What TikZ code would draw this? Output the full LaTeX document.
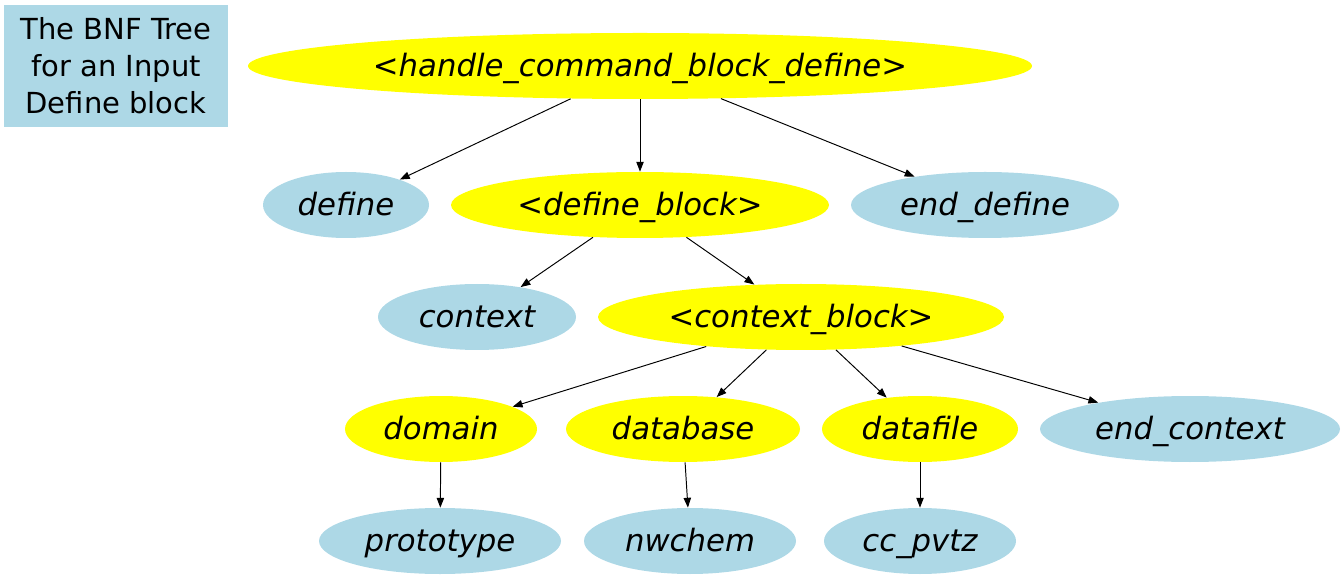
\documentclass[tikz,border=0pt]{standalone}
\usepackage{fontspec}
\setmainfont{DejaVu Sans}
\usetikzlibrary{arrows.meta,shapes.geometric}
\definecolor{lb}{RGB}{173,216,230}
\definecolor{yl}{RGB}{255,255,0}
\def\u{0.02cm}
\tikzset{
  ell/.style={ellipse, draw=none, inner sep=0pt, text height=14pt, text depth=2.6pt,
    font=\fontsize{17.5}{20}\selectfont\itshape},
  yel/.style={ell, fill=yl},
  blu/.style={ell, fill=lb},
  edge/.style={line width=0.55pt, -{Triangle[length=5.6pt,width=4.2pt]}},
}
\begin{document}
\begin{tikzpicture}[x=0.02cm,y=-0.02cm]
\useasboundingbox (0,0) rectangle (1344,580);
\node[fill=lb, minimum width=224*\u, minimum height=122*\u, inner sep=0pt, align=center,
  font=\fontsize{16.5}{21}\selectfont] (title) at (116,66) {The BNF Tree\\for an Input\\Define block};
\node[yel, minimum width=784*\u, minimum height=66*\u] (hcbd) at (640,66) {<handle\_command\_block\_define>};
\node[blu, minimum width=166*\u, minimum height=66*\u] (def) at (346,205) {define};
\node[yel, minimum width=378*\u, minimum height=66*\u] (db) at (640,205) {<define\_block>};
\node[blu, minimum width=268*\u, minimum height=66*\u] (edef) at (985,205) {end\_define};
\node[blu, minimum width=198*\u, minimum height=66*\u] (ctx) at (477,317) {context};
\node[yel, minimum width=406*\u, minimum height=66*\u] (cb) at (801,317) {<context\_block>};
\node[yel, minimum width=192*\u, minimum height=66*\u] (dom) at (441,429) {domain};
\node[yel, minimum width=234*\u, minimum height=66*\u] (dbase) at (683,429) {database};
\node[yel, minimum width=196*\u, minimum height=66*\u] (dfile) at (920,429) {datafile};
\node[blu, minimum width=300*\u, minimum height=66*\u] (ectx) at (1190,429) {end\_context};
\node[blu, minimum width=242*\u, minimum height=66*\u] (proto) at (440,541) {prototype};
\node[blu, minimum width=212*\u, minimum height=66*\u] (nw) at (690,541) {nwchem};
\node[blu, minimum width=192*\u, minimum height=66*\u] (cc) at (920,541) {cc\_pvtz};
\draw[edge] (hcbd) -- (def);
\draw[edge] (hcbd) -- (db);
\draw[edge] (hcbd) -- (edef);
\draw[edge] (db) -- (ctx);
\draw[edge] (db) -- (cb);
\draw[edge] (cb) -- (dom);
\draw[edge] (cb) -- (dbase);
\draw[edge] (cb) -- (dfile);
\draw[edge] (cb) -- (ectx);
\draw[edge] (dom) -- (proto);
\draw[edge] (dbase) -- (nw);
\draw[edge] (dfile) -- (cc);
\end{tikzpicture}
\end{document}
